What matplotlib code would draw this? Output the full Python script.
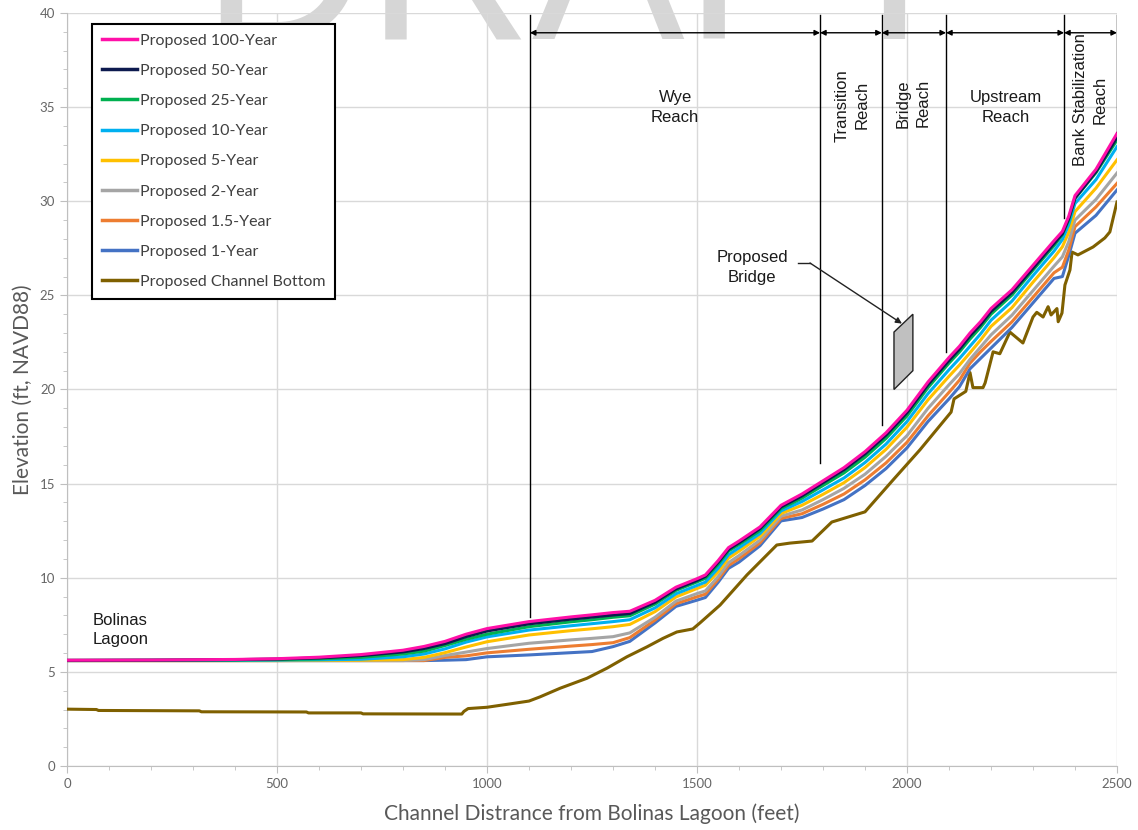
import matplotlib
matplotlib.use("Agg")
import matplotlib.pyplot as plt
from matplotlib.lines import Line2D
from matplotlib.patches import Polygon

# stations (ft from lagoon) shared by the water surface profiles
station = [0, 200, 400, 500, 600, 700, 800, 850, 900, 950, 1000, 1100, 1200, 1250, 1300,
           1340, 1400, 1450, 1500, 1520, 1550, 1575, 1600, 1650, 1700, 1750, 1800, 1850,
           1900, 1950, 2000, 2050, 2100, 2125, 2150, 2175, 2200, 2250, 2300, 2350, 2370,
           2385, 2400, 2450, 2500]

wsel_100 = [5.62, 5.63, 5.66, 5.70, 5.78, 5.92, 6.15, 6.35, 6.62, 7.00, 7.30, 7.67, 7.92, 8.03, 8.15,
            8.22, 8.80, 9.50, 9.95, 10.15, 10.90, 11.60, 11.95, 12.70, 13.85, 14.45, 15.15, 15.85,
            16.70, 17.70, 18.90, 20.40, 21.70, 22.30, 23.00, 23.60, 24.30, 25.30, 26.60, 27.90, 28.40,
            29.20, 30.30, 31.70, 33.60]
wsel_50 = [5.61, 5.62, 5.65, 5.68, 5.74, 5.86, 6.06, 6.24, 6.50, 6.87, 7.17, 7.55, 7.80, 7.91, 8.02,
           8.10, 8.70, 9.41, 9.86, 10.07, 10.81, 11.51, 11.86, 12.61, 13.76, 14.35, 15.05, 15.74,
           16.58, 17.58, 18.77, 20.26, 21.55, 22.15, 22.85, 23.45, 24.15, 25.16, 26.45, 27.76, 28.28,
           29.07, 30.17, 31.58, 33.40]
wsel_25 = [5.61, 5.62, 5.63, 5.65, 5.69, 5.77, 5.95, 6.10, 6.40, 6.73, 7.00, 7.40, 7.66, 7.77, 7.90,
           7.98, 8.60, 9.33, 9.78, 9.97, 10.70, 11.42, 11.77, 12.50, 13.67, 14.23, 14.90, 15.57,
           16.40, 17.40, 18.60, 20.10, 21.40, 22.00, 22.68, 23.30, 24.00, 25.02, 26.34, 27.64, 28.23,
           29.00, 30.15, 31.52, 33.25]
wsel_10 = [5.60, 5.61, 5.61, 5.62, 5.64, 5.67, 5.80, 5.95, 6.22, 6.58, 6.86, 7.22, 7.45, 7.56, 7.67,
           7.77, 8.40, 9.15, 9.59, 9.77, 10.50, 11.22, 11.59, 12.35, 13.55, 14.05, 14.67, 15.30,
           16.12, 17.10, 18.30, 19.78, 21.05, 21.65, 22.30, 22.95, 23.68, 24.70, 26.05, 27.35, 27.97,
           28.75, 29.88, 31.15, 32.90]
wsel_5 = [5.60, 5.60, 5.60, 5.60, 5.61, 5.62, 5.65, 5.77, 6.02, 6.32, 6.60, 6.96, 7.19, 7.29, 7.40,
          7.52, 8.20, 8.98, 9.43, 9.60, 10.30, 11.04, 11.41, 12.20, 13.41, 13.85, 14.43, 15.05,
          15.85, 16.82, 18.00, 19.45, 20.70, 21.30, 21.95, 22.62, 23.35, 24.35, 25.70, 27.00, 27.58,
          28.35, 29.45, 30.70, 32.20]
wsel_2 = [5.60, 5.60, 5.60, 5.60, 5.60, 5.60, 5.60, 5.65, 5.87, 6.05, 6.24, 6.52, 6.70, 6.78, 6.87,
          7.07, 7.90, 8.76, 9.16, 9.30, 10.05, 10.80, 11.18, 12.00, 13.27, 13.60, 14.15, 14.75,
          15.50, 16.45, 17.55, 19.00, 20.25, 20.85, 21.60, 22.25, 22.90, 23.95, 25.25, 26.55, 27.05,
          27.85, 29.00, 30.10, 31.50]
wsel_1_5 = [5.60, 5.60, 5.60, 5.60, 5.60, 5.60, 5.60, 5.60, 5.77, 5.85, 6.01, 6.20, 6.37, 6.45, 6.55,
            6.82, 7.75, 8.62, 8.99, 9.13, 9.90, 10.65, 11.01, 11.85, 13.15, 13.40, 13.90, 14.45,
            15.20, 16.10, 17.20, 18.60, 19.85, 20.50, 21.40, 22.00, 22.55, 23.60, 24.90, 26.20, 26.50,
            27.40, 28.65, 29.70, 30.95]
wsel_1 = [5.60, 5.60, 5.60, 5.60, 5.60, 5.60, 5.60, 5.60, 5.62, 5.65, 5.80, 5.90, 6.02, 6.08, 6.34,
          6.62, 7.60, 8.48, 8.81, 8.95, 9.75, 10.50, 10.83, 11.70, 13.02, 13.20, 13.65, 14.15,
          14.90, 15.80, 16.90, 18.30, 19.50, 20.15, 21.10, 21.65, 22.20, 23.30, 24.60, 25.90, 26.00,
          27.10, 28.30, 29.25, 30.60]

# channel bottom has its own survey stations
bottom_x = [0, 70, 75, 315, 320, 570, 575, 700, 705, 940, 945, 955, 1000, 1055, 1100, 1126, 1174,
            1238, 1286, 1333, 1381, 1419, 1452, 1490, 1507, 1555, 1619, 1690, 1721, 1774, 1821,
            1900, 1967, 2031, 2105, 2112, 2140, 2150, 2157, 2181, 2186, 2205, 2221, 2245, 2276,
            2300, 2309, 2324, 2336, 2343, 2357, 2360, 2369, 2376, 2388, 2393, 2407, 2443, 2471,
            2483, 2500]
bottom_z = [3.02, 3.00, 2.95, 2.93, 2.88, 2.87, 2.82, 2.82, 2.77, 2.76, 2.90, 3.05, 3.12, 3.30, 3.45,
            3.67, 4.13, 4.66, 5.20, 5.80, 6.33, 6.78, 7.12, 7.28, 7.60, 8.55, 10.15, 11.74, 11.84,
            11.95, 12.96, 13.50, 15.20, 16.80, 18.80, 19.50, 19.90, 20.90, 20.10, 20.10, 20.35,
            22.00, 21.90, 23.05, 22.47, 23.85, 24.10, 23.85, 24.40, 23.96, 24.30, 23.60, 24.06,
            25.55, 26.35, 27.30, 27.15, 27.57, 28.05, 28.37, 29.96]

labels = ["Proposed 100-Year", "Proposed 50-Year", "Proposed 25-Year", "Proposed 10-Year",
          "Proposed 5-Year", "Proposed 2-Year", "Proposed 1.5-Year", "Proposed 1-Year",
          "Proposed Channel Bottom"]
colors = ["#ff10a8", "#0d1a4f", "#00b050", "#00b0f0", "#ffc000", "#a5a5a5", "#ed7d31",
          "#4472c4", "#7f6000"]

# reach limits (ft) and where each limit line stops (ft elevation)
reach_x = [1102, 1793, 1940, 2093, 2374, 2500]
reach_line_bottom = [7.9, 16.1, 18.1, 22.0, 29.1, 33.7]

# proposed bridge deck outline
bridge_x = [1969, 2014, 2014, 1969]
bridge_z = [23.05, 24.0, 21.0, 20.0]

fig = plt.figure(figsize=(11.38, 8.30), dpi=100)
ax = fig.add_axes([67 / 1138, 64 / 830, 1050 / 1138, 753 / 830])
ax.patch.set_alpha(0)

# watermark sits on the figure, behind the (transparent) axes
fig.text(583 / 1138, 1 - 40 / 830, "DRAFT", ha="center", va="baseline",
         family="Liberation Sans", fontsize=165, color="#d6d6d6", zorder=-1)

profiles = [wsel_100, wsel_50, wsel_25, wsel_10, wsel_5, wsel_2, wsel_1_5, wsel_1]
ax.plot(bottom_x, bottom_z, color=colors[8], lw=2.2, zorder=3, solid_joinstyle="round")
for prof, col in reversed(list(zip(profiles, colors[:8]))):
    ax.plot(station, prof, color=col, lw=2.2, zorder=3, solid_joinstyle="round")

ax.set_xlim(0, 2500)
ax.set_ylim(0, 40)
ax.set_xticks(range(0, 2501, 500))
ax.set_yticks(range(0, 41, 5))
ax.set_xticks(range(0, 2501, 100), minor=True)
ax.set_yticks(range(0, 41, 1), minor=True)
ax.grid(True, which="major", color="#d9d9d9", lw=1)
ax.set_axisbelow(True)
for s in ["top", "right"]:
    ax.spines[s].set_visible(False)
for s in ["left", "bottom"]:
    ax.spines[s].set_color("#bfbfbf")
ax.tick_params(which="both", colors="#bfbfbf", labelcolor="#666666", labelsize=9.5,
               direction="out")
ax.tick_params(which="major", length=5)
ax.tick_params(which="minor", length=3)
for lab in ax.get_xticklabels() + ax.get_yticklabels():
    lab.set_family("Lato")

ax.set_xlabel("Channel Distrance from Bolinas Lagoon (feet)", family="Lato", fontsize=15,
              color="#595959", labelpad=10)
ax.set_ylabel("Elevation (ft, NAVD88)", family="Lato", fontsize=15, color="#595959",
              labelpad=5)

# reach limit lines and dimension arrows
for xr, zb in zip(reach_x, reach_line_bottom):
    ax.plot([xr, xr], [zb, 39.9], color="black", lw=1, zorder=4)
for x0, x1 in zip(reach_x[:-1], reach_x[1:]):
    ax.annotate("", xy=(x1, 38.95), xytext=(x0, 38.95),
                arrowprops=dict(arrowstyle="<|-|>", color="black", lw=1,
                                mutation_scale=8, shrinkA=0, shrinkB=0), zorder=4)

txt = dict(family="Liberation Sans", fontsize=12, color="#1a1a1a", zorder=5, linespacing=1.4)
ax.text(1448, 35.0, "Wye\nReach", ha="center", va="center", **txt)
ax.text(1869, 35.1, "Transition\nReach", ha="center", va="center", rotation=90, **txt)
ax.text(2014, 35.2, "Bridge\nReach", ha="center", va="center", rotation=90, **txt)
ax.text(2236, 35.0, "Upstream\nReach", ha="center", va="center", **txt)
ax.text(2436, 35.4, "Bank Stabilization\nReach", ha="center", va="center", rotation=90, **txt)
ax.text(62, 7.22, "Bolinas\nLagoon", ha="left", va="center", **txt)
ax.text(1631, 26.5, "Proposed\nBridge", ha="center", va="center", **txt)

ax.add_patch(Polygon(list(zip(bridge_x, bridge_z)), closed=True, facecolor="#c0c0c0",
                     edgecolor="#222222", lw=1, zorder=4))
ax.plot([1740, 1769], [26.72, 26.72], color="#222222", lw=1, zorder=4)
ax.annotate("", xy=(1988, 23.5), xytext=(1769, 26.72),
            arrowprops=dict(arrowstyle="-|>", color="#222222", lw=1, mutation_scale=9,
                            shrinkA=0, shrinkB=0), zorder=4)

handles = [Line2D([], [], color=c, lw=2.5) for c in colors]
leg = ax.legend(handles, labels, loc="upper left", bbox_to_anchor=(0.0238, 0.9854),
                borderaxespad=0, fancybox=False, frameon=True, edgecolor="black",
                framealpha=1, prop={"family": "Lato", "size": 11.5}, handlelength=2.2,
                handletextpad=0.2, labelspacing=1.0, borderpad=0.6)
leg.get_frame().set_linewidth(1.5)
for t in leg.get_texts():
    t.set_color("#404040")
leg.set_zorder(6)

fig.savefig("out.png", dpi=100)
